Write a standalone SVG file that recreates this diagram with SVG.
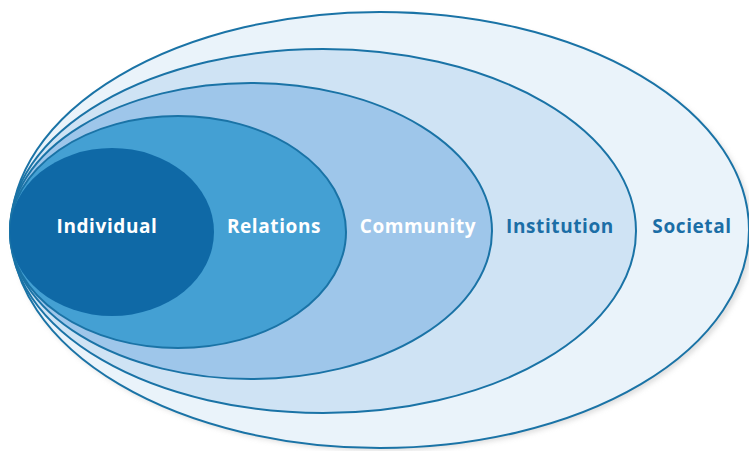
<svg xmlns="http://www.w3.org/2000/svg" width="749" height="451" viewBox="0 0 749 451">
  <style>
    .ring { stroke: #1a73a6; stroke-width: 2; }
    .lbl { font-family: "Open Sans", "Liberation Sans", sans-serif; font-weight: 700; font-size: 19px; letter-spacing: 0.6px; text-anchor: middle; }
    .light { fill: #ffffff; }
    .dark { fill: #1b6ea6; }
  </style>
  <defs>
    <filter id="soft" x="-10%" y="-10%" width="120%" height="120%">
      <feGaussianBlur stdDeviation="2.5"/>
    </filter>
  </defs>
  <rect width="749" height="451" fill="#ffffff"/>

  <!-- faint shadow under the outermost ring -->
  <ellipse cx="383" cy="233" rx="370" ry="218" fill="#c9c9c9" opacity="0.6" filter="url(#soft)"/>

  <g id="societal">
    <ellipse class="ring" cx="380" cy="230" rx="369" ry="218" fill="#eaf3fa"/>
    <text class="lbl dark" x="692" y="233">Societal</text>
  </g>
  <g id="institution">
    <ellipse class="ring" cx="323" cy="231" rx="313" ry="182" fill="#cfe3f4"/>
    <text class="lbl dark" x="560" y="233">Institution</text>
  </g>
  <g id="community">
    <ellipse class="ring" cx="251" cy="231" rx="241" ry="148" fill="#9ec6ea"/>
    <text class="lbl light" x="418" y="233">Community</text>
  </g>
  <g id="relations">
    <ellipse class="ring" cx="178" cy="232" rx="168" ry="116" fill="#44a0d3"/>
    <text class="lbl light" x="274" y="233">Relations</text>
  </g>
  <g id="individual">
    <ellipse cx="112" cy="232" rx="102" ry="84" fill="#0f69a6"/>
    <text class="lbl light" x="107" y="233">Individual</text>
  </g>
</svg>
